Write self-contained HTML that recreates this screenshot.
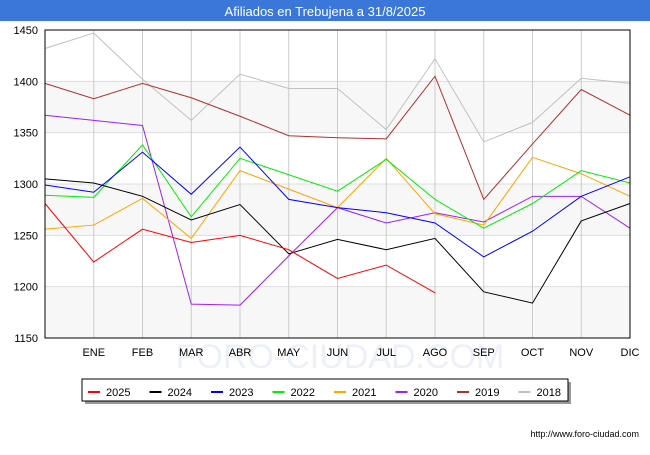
<!DOCTYPE html>
<html><head><meta charset="utf-8"><style>
body{margin:0;background:#fff;font-family:"Liberation Sans",sans-serif}
</style></head><body>
<svg width="650" height="450" xmlns="http://www.w3.org/2000/svg" font-family="Liberation Sans, sans-serif">
<rect x="0" y="0" width="650" height="21" fill="#3a77d9"/>
<text x="325" y="16" fill="#fff" font-size="13" text-anchor="middle">Afiliados en Trebujena a 31/8/2025</text>
<g id="bands"></g><g id="grid"></g>
<text x="340" y="368" fill="#eef0f8" font-size="34" text-anchor="middle">FORO-CIUDAD.COM</text>
<g id="series"></g>
<rect x="45" y="30" width="585" height="308" fill="none" stroke="#000" stroke-width="1"/>
<g id="axes" font-size="11" fill="#000"></g>
<rect x="85" y="382" width="486" height="22" fill="#999"/>
<rect x="82" y="379" width="486" height="22" fill="#fff" stroke="#000"/>
<g id="legend" font-size="11"></g>
<text x="639" y="437" font-size="9" text-anchor="end">http://www.foro-ciudad.com</text>
</svg>
<script>
const months=["","ENE","FEB","MAR","ABR","MAY","JUN","JUL","AGO","SEP","OCT","NOV","DIC"];
const yTicks=[1150,1200,1250,1300,1350,1400,1450];
const years=["2025","2024","2023","2022","2021","2020","2019","2018"];
const colors=["#ff0000","#000000","#0000ff","#00ee00","#ffa500","#a020f0","#b03030","#c0c0c0"];
const s2025=[1281,1224,1256,1243,1250,1236,1208,1221,1194];
const s2024=[1305,1301,1288,1265,1280,1232,1246,1236,1247,1195,1184,1264,1281];
const s2023=[1299,1292,1331,1290,1336,1285,1277,1272,1262,1229,1254,1288,1307];
const s2022=[1289,1287,1338,1268,1325,1309,1293,1324,1285,1257,1281,1313,1301];
const s2021=[1256,1260,1286,1247,1313,1295,1277,1325,1271,1260,1326,1310,1288];
const s2020=[1367,1362,1357,1183,1182,1230,1277,1262,1272,1263,1288,1288,1257];
const s2019=[1398,1383,1398,1384,1366,1347,1345,1344,1405,1285,1339,1392,1367];
const s2018=[1432,1447,1402,1362,1407,1393,1393,1353,1422,1341,1360,1403,1398];
const allSeries=[s2025,s2024,s2023,s2022,s2021,s2020,s2019,s2018];
const NS="http://www.w3.org/2000/svg";
const X0=45,X1=630,Y0=30,Y1=338,YMIN=1150,YMAX=1450;
const xs=i=>X0+(X1-X0)*i/12;
const ys=v=>Y1-(v-YMIN)/(YMAX-YMIN)*(Y1-Y0);
function mk(t,a,p){const e=document.createElementNS(NS,t);for(const k in a)e.setAttribute(k,a[k]);p.appendChild(e);return e;}
const bands=document.getElementById('bands'),grid=document.getElementById('grid'),axes=document.getElementById('axes'),ser=document.getElementById('series'),leg=document.getElementById('legend');
for(let i=0;i<yTicks.length-1;i+=2){
 const r=mk('rect',{x:X0,y:ys(yTicks[i+1]),width:X1-X0,height:ys(yTicks[i])-ys(yTicks[i+1]),fill:'#f7f7f7'},bands);
 
 
}
yTicks.forEach(v=>{
 const l=mk('line',{x1:X0,x2:X1,y1:ys(v),y2:ys(v),stroke:'#ddd'},grid);
 
 
 const t=mk('text',{x:38,y:ys(v)+4,'text-anchor':'end'},axes);t.textContent=v;
 
 
});
months.forEach((m,i)=>{
 if(!m)return;
 const l=mk('line',{x1:xs(i),x2:xs(i),y1:Y0,y2:Y1,stroke:'#ccc'},grid);
 
 
 const t=mk('text',{x:xs(i),y:356,'text-anchor':'middle'},axes);t.textContent=m;
 
 
});
for(let k=allSeries.length-1;k>=0;k--){
 const pts=allSeries[k].map((v,i)=>xs(i)+','+ys(v)).join(' ');
 const p=mk('polyline',{points:pts,fill:'none',stroke:colors[k],'stroke-width':1},ser);
 
 
}
years.forEach((y,k)=>{
 const x=88+k*61.5;
 const l=mk('line',{x1:x,x2:x+12,y1:392,y2:392,stroke:colors[k],'stroke-width':2},leg);
 
 
 const t=mk('text',{x:x+18,y:396},leg);t.textContent=y;
 
 
});
</script>
</body></html>
